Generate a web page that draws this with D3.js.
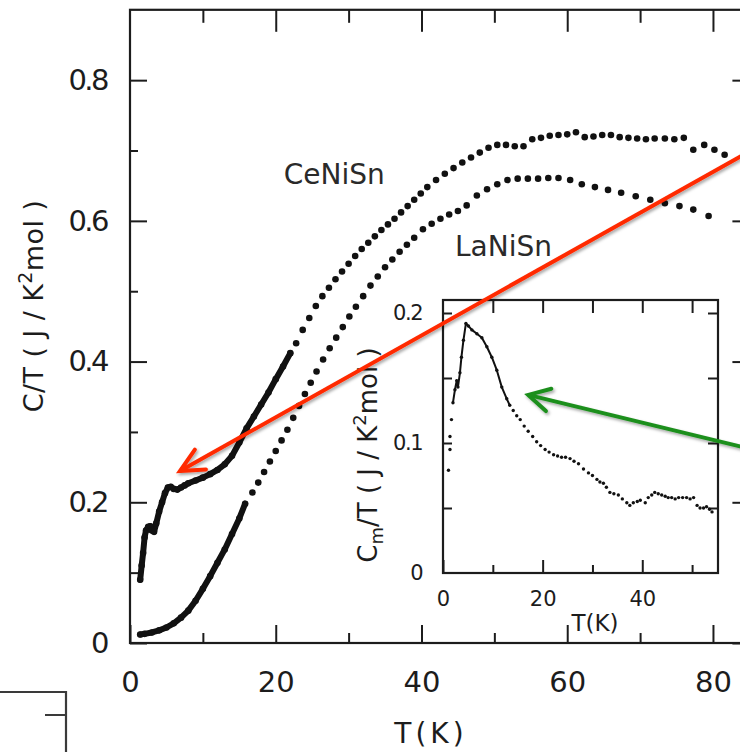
<!DOCTYPE html>
<html>
<head>
<meta charset="utf-8">
<script src="https://cdn.jsdelivr.net/npm/d3@7"></script>
<style>
  body { margin: 0; background: #fff; }
  svg { display: block; }
</style>
</head>
<body>
<svg id="chart" width="740" height="752"></svg>
<script>
// C/T of CeNiSn and LaNiSn, T in K, C/T in J/K^2 mol
const ceNiSnT = [1.4,1.6,1.8,2.0,2.2,2.5,2.8,3.0,3.3,3.6,4.0,4.4,4.8,5.2,5.6,6.0,6.5,7.0,7.5,8.0,9.0,10.0,11.0,12.0,13.0,14.0,15.0,16.0,17.0,18.0,19.0,20.0,21.0,22.0,
  22.8,23.7,24.6,25.5,26.4,27.3,28.2,29.1,30.0,30.9,31.8,32.7,33.6,34.5,35.4,36.3,37.2,38.1,39.0,39.9,40.8,42.0,43.2,44.4,45.6,46.8,48.0,49.2,50.4,51.6,52.8,54.0,55.2,56.4,57.6,58.8,60.0,61.2,62.4,63.6,64.8,66.0,67.2,68.4,69.6,70.8,72.0,73.4,74.7,76.0,77.3,78.8,80.2,81.6];
const ceNiSnCT = [0.090,0.110,0.128,0.150,0.160,0.165,0.166,0.160,0.158,0.170,0.187,0.200,0.213,0.221,0.222,0.219,0.218,0.221,0.224,0.227,0.231,0.235,0.240,0.246,0.254,0.266,0.285,0.305,0.322,0.339,0.356,0.375,0.393,0.412,
  0.426,0.445,0.462,0.479,0.493,0.505,0.517,0.528,0.539,0.550,0.560,0.569,0.578,0.587,0.595,0.603,0.612,0.621,0.630,0.639,0.648,0.658,0.667,0.675,0.683,0.690,0.697,0.704,0.708,0.708,0.706,0.706,0.716,0.718,0.721,0.722,0.723,0.726,0.719,0.720,0.722,0.722,0.719,0.718,0.717,0.716,0.717,0.717,0.716,0.718,0.701,0.708,0.701,0.694];

const laNiSnT = [1.4,2.0,3.0,4.0,5.0,6.0,7.0,8.0,9.0,10.0,11.0,12.0,13.0,14.0,15.0,15.8,
  16.8,17.6,18.4,19.2,20.0,20.8,21.6,22.4,23.2,24.0,24.8,25.6,26.5,27.4,28.3,29.2,30.1,31.0,32.0,33.0,34.0,35.0,36.0,37.0,38.0,39.0,40.2,41.4,42.6,43.8,45.0,46.2,47.6,49.0,50.4,51.8,53.2,54.6,56.0,57.4,58.8,60.4,62.0,63.8,65.6,67.4,69.4,71.4,73.4,75.4,77.3,79.4];
const laNiSnCT = [0.012,0.013,0.015,0.018,0.022,0.028,0.036,0.046,0.060,0.077,0.095,0.114,0.133,0.155,0.177,0.198,
  0.214,0.228,0.243,0.258,0.273,0.288,0.303,0.320,0.337,0.354,0.370,0.386,0.403,0.419,0.434,0.449,0.464,0.478,0.493,0.508,0.521,0.534,0.545,0.556,0.566,0.576,0.588,0.596,0.603,0.609,0.614,0.622,0.636,0.645,0.652,0.658,0.660,0.660,0.660,0.661,0.661,0.658,0.652,0.648,0.644,0.640,0.635,0.630,0.625,0.621,0.616,0.607];

// magnetic part Cm/T = (C_CeNiSn - C_LaNiSn)/T
const insetT = [1.1,1.4,1.4,1.7,2.0,2.4,2.75,3.0,3.4,3.7,4.1,4.6,5.1,5.8,6.8,7.8,8.8,9.8,10.8,11.8,12.8,13.4,14.1,14.8,15.5,16.3,17.1,18.0,18.8,19.6,
  20.5,21.3,22.2,23.0,23.8,24.6,25.5,26.3,27.2,28.2,29.2,30.0,30.9,31.5,32.2,32.8,33.5,34.3,35.2,36.0,36.9,37.5,38.2,39.0,39.6,40.6,41.2,41.9,42.5,43.2,
  43.9,44.6,45.2,45.9,46.6,47.3,48.1,48.9,49.6,50.3,51.0,51.6,52.3,52.9,53.5,54.0];
const insetCmT = [0.079,0.095,0.105,0.118,0.131,0.141,0.148,0.143,0.154,0.166,0.179,0.192,0.190,0.187,0.184,0.181,0.174,0.166,0.156,0.143,0.134,0.129,0.125,0.121,0.118,0.113,0.109,0.105,0.101,0.098,
  0.095,0.093,0.091,0.090,0.089,0.089,0.088,0.086,0.084,0.080,0.077,0.075,0.072,0.070,0.069,0.066,0.062,0.061,0.060,0.057,0.054,0.052,0.054,0.055,0.056,0.054,0.058,0.060,0.062,0.061,
  0.060,0.059,0.058,0.058,0.057,0.058,0.058,0.058,0.057,0.058,0.052,0.050,0.050,0.051,0.049,0.047];

// tick values
const xMajor = [0, 20, 40, 60, 80];
const xMinor = [10, 30, 50, 70];
const yMajor = [0, 0.2, 0.4, 0.6, 0.8];
const yMinor = [0.1, 0.3, 0.5, 0.7];
const insetXMajor = [0, 20, 40];
const insetXMinor = [10, 30, 50];
const insetYLabels = [0, 0.1, 0.2];
const insetYTicks = [0.05, 0.1, 0.15, 0.2];

const seriesNames = ["CeNiSn", "LaNiSn"];

const ink = "#1c1c1c";
const font = "'DejaVu Sans', sans-serif";

const svg = d3.select("#chart");

const defs = svg.append("defs");
const shadow = defs.append("filter").attr("id", "shadow")
  .attr("x", "-10%").attr("y", "-10%").attr("width", "120%").attr("height", "130%");
shadow.append("feDropShadow").attr("dx", 1.5).attr("dy", 2).attr("stdDeviation", 1.4)
  .attr("flood-color", "#000").attr("flood-opacity", 0.35);

// ---------- main panel ----------
const x = d3.scaleLinear().domain([0, 85]).range([130, 749.4]);
const y = d3.scaleLinear().domain([0, 0.9]).range([643, 9.8]);

function styleAxis(g) {
  g.select(".domain").remove();
  g.selectAll("line").attr("stroke", ink).attr("stroke-width", 2);
  g.selectAll("text").attr("fill", ink).attr("font-family", font);
}

const yFmt = d => d === 0 ? "0" : d3.format(".1f")(d);

svg.append("g").attr("transform", `translate(${x(0)},0)`)
  .call(d3.axisLeft(y).tickValues(yMajor).tickSize(-17).tickPadding(23).tickFormat(yFmt))
  .call(styleAxis)
  .call(g => g.selectAll("text").attr("font-size", 29).attr("letter-spacing", -2.5));
svg.append("g").attr("transform", `translate(${x(0)},0)`)
  .call(d3.axisLeft(y).tickValues(yMinor).tickSize(-8).tickFormat(""))
  .call(styleAxis);
svg.append("g").attr("transform", `translate(${x(85)},0)`)
  .call(d3.axisRight(y).tickValues(yMajor).tickSize(-17).tickFormat(""))
  .call(styleAxis);
svg.append("g").attr("transform", `translate(${x(85)},0)`)
  .call(d3.axisRight(y).tickValues(yMinor).tickSize(-8).tickFormat(""))
  .call(styleAxis);
svg.append("g").attr("transform", `translate(0,${y(0)})`)
  .call(d3.axisBottom(x).tickValues(xMajor).tickSize(-18).tickPadding(28).tickFormat(d3.format("d")))
  .call(styleAxis)
  .call(g => g.selectAll("text").attr("font-size", 29));
svg.append("g").attr("transform", `translate(0,${y(0)})`)
  .call(d3.axisBottom(x).tickValues(xMinor).tickSize(-10).tickFormat(""))
  .call(styleAxis);
svg.append("g").attr("transform", `translate(0,${y(0.9)})`)
  .call(d3.axisTop(x).tickValues(xMajor.slice(1)).tickSize(-22).tickFormat(""))
  .call(styleAxis);
svg.append("g").attr("transform", `translate(0,${y(0.9)})`)
  .call(d3.axisTop(x).tickValues(xMinor).tickSize(-13).tickFormat(""))
  .call(styleAxis);

svg.append("rect")
  .attr("x", x(0)).attr("y", y(0.9))
  .attr("width", x(85) - x(0)).attr("height", y(0) - y(0.9))
  .attr("fill", "none").attr("stroke", ink).attr("stroke-width", 2.2);

// axis titles
svg.append("text")
  .attr("x", 431).attr("y", 743)
  .attr("text-anchor", "middle").attr("font-family", font).attr("font-size", 28)
  .attr("letter-spacing", 4).attr("fill", ink)
  .text("T(K)");

const yTitle = svg.append("text")
  .attr("transform", "translate(43,306) rotate(-90)")
  .attr("text-anchor", "middle").attr("font-family", font).attr("font-size", 27)
  .attr("letter-spacing", 0.4).attr("fill", ink);
yTitle.append("tspan").text("C/T ( J / K");
yTitle.append("tspan").attr("font-size", 19).attr("dy", -11).text("2");
yTitle.append("tspan").attr("dy", 11).text("mol )");

// data series
const ceData = ceNiSnT.map((t, i) => ({ t, v: ceNiSnCT[i] }));
const laData = laNiSnT.map((t, i) => ({ t, v: laNiSnCT[i] }));
const mainLine = d3.line().x(d => x(d.t)).y(d => y(d.v)).curve(d3.curveLinear);

// closely spaced low-temperature points merge into a solid trace
[[ceData, 22], [laData, 16]].forEach(([data, limit]) => {
  svg.append("path")
    .datum(data.filter(d => d.t <= limit))
    .attr("d", mainLine)
    .attr("fill", "none").attr("stroke", "#111").attr("stroke-width", 6)
    .attr("stroke-linejoin", "round").attr("stroke-linecap", "round");
});
[ceData, laData].forEach(data => {
  svg.append("g").selectAll("circle")
    .data(data).join("circle")
    .attr("cx", d => x(d.t)).attr("cy", d => y(d.v)).attr("r", 3.3)
    .attr("fill", "#111");
});

// series labels
svg.append("text")
  .attr("x", x(21.1)).attr("y", y(0.652))
  .attr("font-family", font).attr("font-size", 28).attr("fill", "#2a2a2a")
  .text(seriesNames[0]);
svg.append("text")
  .attr("x", x(44.6)).attr("y", y(0.550))
  .attr("font-family", font).attr("font-size", 28).attr("fill", "#2a2a2a")
  .text(seriesNames[1]);

// ---------- inset: magnetic contribution ----------
const xi = d3.scaleLinear().domain([0, 55.2]).range([443, 718]);
const yi = d3.scaleLinear().domain([0, 0.21]).range([573, 300]);

svg.append("rect")
  .attr("x", xi(0)).attr("y", yi(0.21))
  .attr("width", xi(55.2) - xi(0)).attr("height", yi(0) - yi(0.21))
  .attr("fill", "#fff");

svg.append("g").attr("transform", `translate(${xi(0)},0)`)
  .call(d3.axisLeft(yi).tickValues(insetYTicks).tickSize(-9).tickFormat(""))
  .call(styleAxis);
svg.append("g").attr("transform", `translate(${xi(0)},0)`)
  .call(d3.axisLeft(yi).tickValues(insetYLabels).tickSize(0).tickPadding(21).tickFormat(d => d === 0 ? "0" : d3.format(".1f")(d)))
  .call(styleAxis)
  .call(g => g.selectAll("text").attr("font-size", 21).attr("letter-spacing", -1.5));
svg.append("g").attr("transform", `translate(${xi(55.2)},0)`)
  .call(d3.axisRight(yi).tickValues(insetYTicks).tickSize(-10).tickFormat(""))
  .call(styleAxis);
svg.append("g").attr("transform", `translate(0,${yi(0)})`)
  .call(d3.axisBottom(xi).tickValues(insetXMajor).tickSize(-13).tickPadding(18).tickFormat(d3.format("d")))
  .call(styleAxis)
  .call(g => g.selectAll("text").attr("font-size", 21));
svg.append("g").attr("transform", `translate(0,${yi(0)})`)
  .call(d3.axisBottom(xi).tickValues(insetXMinor).tickSize(-8).tickFormat(""))
  .call(styleAxis);
svg.append("g").attr("transform", `translate(0,${yi(0.21)})`)
  .call(d3.axisTop(xi).tickValues(insetXMajor.slice(1).concat(insetXMinor)).tickSize(-13).tickFormat(""))
  .call(styleAxis);

svg.append("rect")
  .attr("x", xi(0)).attr("y", yi(0.21))
  .attr("width", xi(55.2) - xi(0)).attr("height", yi(0) - yi(0.21))
  .attr("fill", "none").attr("stroke", ink).attr("stroke-width", 2.2);

svg.append("text")
  .attr("x", 595).attr("y", 631)
  .attr("text-anchor", "middle").attr("font-family", font).attr("font-size", 23)
  .attr("fill", ink).text("T(K)");

const iTitle = svg.append("text")
  .attr("transform", "translate(377,455) rotate(-90)")
  .attr("text-anchor", "middle").attr("font-family", font).attr("font-size", 26)
  .attr("fill", ink);
iTitle.append("tspan").text("C");
iTitle.append("tspan").attr("font-size", 18).attr("dy", 6).text("m");
iTitle.append("tspan").attr("dy", -6).text("/T ( J / K");
iTitle.append("tspan").attr("font-size", 18).attr("dy", -11).text("2");
iTitle.append("tspan").attr("dy", 11).text("mol )");

const insetData = insetT.map((t, i) => ({ t, v: insetCmT[i] }));
const insetLine = d3.line().x(d => xi(d.t)).y(d => yi(d.v));
svg.append("path")
  .datum(insetData.filter(d => d.t >= 2 && d.t <= 14))
  .attr("d", insetLine)
  .attr("fill", "none").attr("stroke", "#111").attr("stroke-width", 2)
  .attr("stroke-linejoin", "round");
svg.append("g").selectAll("circle")
  .data(insetData).join("circle")
  .attr("cx", d => xi(d.t)).attr("cy", d => yi(d.v)).attr("r", 1.7)
  .attr("fill", "#111");

// ---------- edge of the neighbouring panel ----------
svg.append("path")
  .attr("d", "M0,692 H66 V760 M45,715 H66")
  .attr("fill", "none").attr("stroke", "#3a3a3a").attr("stroke-width", 2.2);

// ---------- annotation arrows ----------
function arrow(x1, y1, x2, y2, color, headLen, headAngle) {
  const g = svg.append("g").attr("filter", "url(#shadow)");
  const ang = Math.atan2(y1 - y2, x1 - x2);
  const a1 = ang - headAngle, a2 = ang + headAngle;
  g.append("line").attr("x1", x1).attr("y1", y1).attr("x2", x2).attr("y2", y2)
    .attr("stroke", color).attr("stroke-width", 4);
  g.append("path")
    .attr("d", `M${x2 + headLen * Math.cos(a1)},${y2 + headLen * Math.sin(a1)} L${x2},${y2} L${x2 + headLen * Math.cos(a2)},${y2 + headLen * Math.sin(a2)}`)
    .attr("fill", "none").attr("stroke", color).attr("stroke-width", 4)
    .attr("stroke-linejoin", "miter").attr("stroke-linecap", "round");
}
// red: points at the shoulder of CeNiSn near 7 K
arrow(x(84.2), y(0.694), x(6.86), y(0.2445), "#ff2a00", 26, 0.45);
// green: points at the falling Cm/T curve
arrow(xi(60), yi(0.097), xi(17.1), yi(0.137), "#1f8f1f", 24, 0.5);
</script>
</body>
</html>
